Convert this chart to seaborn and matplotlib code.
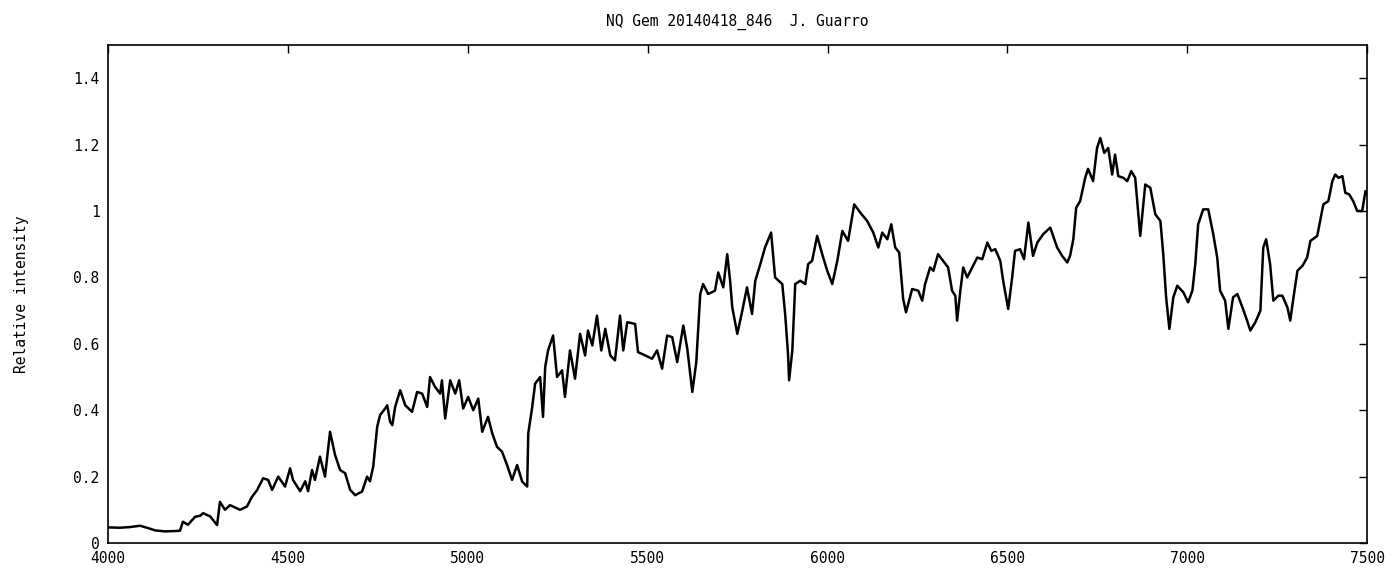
import numpy as np
import pandas as pd
import matplotlib
matplotlib.use("Agg")
import matplotlib.pyplot as plt
import seaborn as sns
from matplotlib.ticker import FormatStrFormatter

# Spectrum of NQ Gem: wavelength (Angstrom) and relative intensity
wavelength = [
    4000, 4033, 4061, 4089, 4111, 4131, 4158, 4186, 4200, 4208, 4222, 4242, 4256, 4264,
    4284, 4303, 4311, 4325, 4339, 4367, 4386, 4400, 4414, 4431, 4445, 4456, 4473, 4492,
    4506, 4514, 4534, 4548, 4556, 4567, 4575, 4589, 4603, 4617, 4631, 4645, 4659, 4673,
    4687, 4706, 4720, 4728, 4737, 4748, 4756, 4770, 4776, 4784, 4790, 4798, 4812, 4826,
    4845, 4859, 4873, 4887, 4895, 4909, 4923, 4928, 4937, 4951, 4965, 4976, 4987, 5001,
    5015, 5029, 5040, 5056, 5068, 5081, 5095, 5109, 5123, 5137, 5151, 5165, 5168, 5179,
    5187, 5201, 5209, 5215, 5223, 5237, 5248, 5262, 5270, 5284, 5298, 5312, 5326, 5334,
    5346, 5359, 5371, 5382, 5396, 5409, 5423, 5432, 5443, 5465, 5473, 5493, 5512, 5526,
    5540, 5554, 5568, 5582, 5599, 5610, 5624, 5635, 5646, 5654, 5668, 5687, 5696, 5710,
    5721, 5729, 5735, 5749, 5762, 5776, 5790, 5799, 5813, 5826, 5843, 5854, 5874, 5882,
    5890, 5893, 5902, 5910, 5924, 5938, 5946, 5957, 5971, 5985, 5999, 6013, 6027, 6041,
    6057, 6074, 6091, 6110, 6127, 6141, 6152, 6166, 6177, 6188, 6199, 6210, 6218, 6235,
    6252, 6263, 6271, 6285, 6294, 6307, 6321, 6335, 6346, 6355, 6360, 6369, 6377, 6388,
    6402, 6416, 6430, 6444, 6455, 6466, 6480, 6488, 6502, 6513, 6521, 6535, 6546, 6558,
    6571, 6583, 6599, 6619, 6638, 6652, 6666, 6674, 6683, 6691, 6702, 6716, 6724, 6738,
    6749, 6758, 6769, 6780, 6791, 6799, 6808, 6822, 6833, 6844, 6855, 6863, 6869, 6883,
    6897, 6911, 6925, 6933, 6941, 6950, 6961, 6972, 6989, 7002, 7014, 7022, 7030, 7044,
    7058, 7072, 7083, 7091, 7105, 7114, 7127, 7139, 7153, 7166, 7175, 7189, 7203, 7211,
    7219, 7230, 7239, 7253, 7264, 7278, 7286, 7295, 7306, 7320, 7333, 7342, 7361, 7370,
    7378, 7392, 7403, 7411, 7420, 7431, 7439, 7450, 7461, 7472, 7486, 7495, 7500,
]
intensity = [
    0.047, 0.046, 0.048, 0.052, 0.045, 0.038, 0.035, 0.036, 0.037, 0.064, 0.055, 0.079, 0.082, 0.090,
    0.080, 0.054, 0.124, 0.100, 0.114, 0.100, 0.110, 0.139, 0.159, 0.195, 0.190, 0.160, 0.200, 0.170,
    0.225, 0.190, 0.156, 0.186, 0.156, 0.220, 0.190, 0.260, 0.200, 0.335, 0.265, 0.220, 0.210, 0.160,
    0.144, 0.155, 0.200, 0.186, 0.230, 0.350, 0.385, 0.405, 0.415, 0.365, 0.355, 0.410, 0.460, 0.415,
    0.395, 0.455, 0.450, 0.410, 0.500, 0.470, 0.450, 0.490, 0.375, 0.490, 0.450, 0.490, 0.405, 0.440,
    0.400, 0.435, 0.335, 0.380, 0.330, 0.290, 0.275, 0.235, 0.190, 0.235, 0.185, 0.170, 0.330, 0.410,
    0.480, 0.500, 0.380, 0.530, 0.580, 0.625, 0.500, 0.520, 0.440, 0.580, 0.495, 0.630, 0.565, 0.640,
    0.595, 0.685, 0.580, 0.645, 0.565, 0.550, 0.685, 0.580, 0.665, 0.660, 0.575, 0.565, 0.555, 0.580,
    0.525, 0.625, 0.620, 0.545, 0.655, 0.585, 0.455, 0.545, 0.750, 0.780, 0.750, 0.760, 0.815, 0.770,
    0.870, 0.790, 0.710, 0.630, 0.695, 0.770, 0.690, 0.790, 0.840, 0.890, 0.935, 0.800, 0.780, 0.690,
    0.570, 0.490, 0.580, 0.780, 0.790, 0.780, 0.840, 0.850, 0.925, 0.870, 0.820, 0.780, 0.850, 0.940,
    0.910, 1.020, 0.995, 0.970, 0.935, 0.890, 0.935, 0.915, 0.960, 0.890, 0.875, 0.735, 0.695, 0.765,
    0.760, 0.730, 0.780, 0.830, 0.820, 0.870, 0.850, 0.830, 0.760, 0.745, 0.670, 0.760, 0.830, 0.800,
    0.830, 0.860, 0.855, 0.905, 0.880, 0.885, 0.850, 0.790, 0.705, 0.800, 0.880, 0.885, 0.855, 0.965,
    0.865, 0.905, 0.930, 0.950, 0.890, 0.865, 0.845, 0.865, 0.915, 1.010, 1.030, 1.100, 1.127, 1.090,
    1.190, 1.220, 1.175, 1.190, 1.110, 1.170, 1.105, 1.100, 1.090, 1.120, 1.100, 1.000, 0.925, 1.080,
    1.070, 0.990, 0.970, 0.870, 0.740, 0.645, 0.740, 0.775, 0.755, 0.725, 0.760, 0.840, 0.960, 1.005,
    1.005, 0.930, 0.860, 0.760, 0.730, 0.645, 0.740, 0.750, 0.710, 0.670, 0.640, 0.665, 0.700, 0.890,
    0.915, 0.840, 0.730, 0.745, 0.745, 0.710, 0.670, 0.740, 0.820, 0.835, 0.860, 0.910, 0.925, 0.975,
    1.020, 1.030, 1.090, 1.110, 1.100, 1.105, 1.055, 1.050, 1.030, 1.000, 1.000, 1.060, 1.050,
]

x_ticks = [4000, 4500, 5000, 5500, 6000, 6500, 7000, 7500]
y_ticks = [0, 0.2, 0.4, 0.6, 0.8, 1.0, 1.2, 1.4]

df = pd.DataFrame({"wavelength": wavelength, "intensity": intensity})

sns.set_theme(style="white")
plt.rcParams["font.family"] = ["DejaVu Sans Mono"]

fig = plt.figure(figsize=(13.98, 5.81), dpi=100)
ax = fig.add_axes([0.0773, 0.0654, 0.9007, 0.8571])

sns.lineplot(data=df, x="wavelength", y="intensity", ax=ax, color="black",
             linewidth=1.8, estimator=None, sort=False)

ax.set_xlim(4000, 7500)
ax.set_ylim(0, 1.5)
ax.set_xticks(x_ticks)
ax.set_yticks(y_ticks)
ax.yaxis.set_major_formatter(FormatStrFormatter("%g"))
ax.tick_params(direction="in", length=6, width=1, colors="black",
               top=True, right=True, labelsize=10.5, pad=6)
for side in ax.spines.values():
    side.set_color("black")
    side.set_linewidth(1.2)

ax.set_xlabel("")
ax.set_ylabel("Relative intensity", fontsize=10.5, color="black", labelpad=32)
ax.set_title("NQ Gem 20140418_846  J. Guarro", fontsize=10.5, color="black", pad=14)

fig.savefig("out.png", dpi=100, facecolor="white")
